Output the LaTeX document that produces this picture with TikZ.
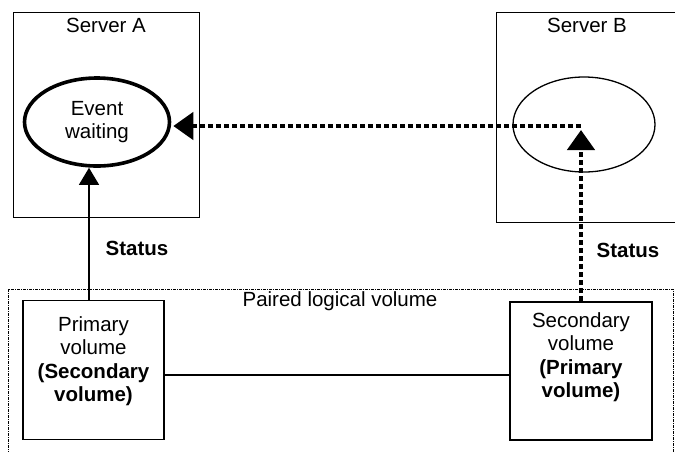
\documentclass[tikz,border=0pt]{standalone}
\usepackage{fontspec}
\setmainfont{Liberation Sans}
\usetikzlibrary{arrows.meta,shapes.geometric}

\begin{document}
\begin{tikzpicture}[x=1pt,y=-1pt,
  every node/.style={font=\fontsize{20.5}{23.5}\selectfont},
  server/.style={draw, line width=1pt, minimum width=186pt, minimum height=205pt, inner sep=0pt},
  evt/.style={ellipse, draw, inner sep=0pt},
  vol/.style={draw, line width=1.6pt, minimum width=141pt, minimum height=139pt, inner sep=0pt},
  voltxt/.style={align=center, inner sep=0pt},
  pair/.style={draw, line width=0.8pt, dash pattern=on 3pt off 1pt on 1pt off 1pt},
  stat/.style={line width=1.2pt, -{Triangle[length=17pt,width=20pt]}},
  dotarr/.style={line width=4.5pt, dash pattern=on 5pt off 3pt, -{Triangle[length=20pt,width=27pt]}},
  lbl/.style={font=\fontsize{20.5}{23.5}\selectfont\bfseries, inner sep=0pt}]
  \useasboundingbox (0,0) rectangle (675,451);
  \clip (0,0) rectangle (675,451);
  \node[server] (srvA) at (106,114.5) {};
  \node[inner sep=0pt] (srvAname) at (106,25) {Server A};
  \node[server, minimum width=200pt, minimum height=210pt] (srvB) at (596,117) {};
  \node[inner sep=0pt] (srvBname) at (587,25) {Server B};
  \node[evt, line width=3.6pt, minimum width=145pt, minimum height=88pt, align=center] (evA) at (97,122) {Event\\waiting};
  \node[evt, line width=1.3pt, minimum width=142pt, minimum height=95pt] (evB) at (584,124.5) {};
  \draw[pair] (8,289) rectangle (673,470);
  \node[inner sep=0pt] (pairname) at (340,301) {Paired logical volume};
  \node[vol] (prim) at (93.5,370) {};
  \node[voltxt] (primtxt) at ([yshift=9pt]prim.center) {Primary\\volume\\\textbf{(Secondary}\\\textbf{volume)}};
  \node[vol, minimum width=142pt, minimum height=138pt] (sec) at (581,371) {};
  \node[voltxt] (sectxt) at ([yshift=14pt]sec.center) {Secondary\\volume\\\textbf{(Primary}\\\textbf{volume)}};
  \draw[line width=1.2pt] (prim.east |- 0,375) -- (sec.west |- 0,375);
  \coordinate (bhub) at (sec.north |- 0,126);
  \draw[stat] ([xshift=-4.5pt]prim.north) -- ([xshift=-4.5pt]prim.north |- evA.south);
  \draw[dotarr] (sec.north) -- ([yshift=-4pt]bhub);
  \draw[dotarr] (bhub) -- ([xshift=2pt]evA.east |- bhub);
  \node[lbl] (statA) at (137,248) {Status};
  \node[lbl] (statB) at (628,250) {Status};
\end{tikzpicture}
\end{document}
